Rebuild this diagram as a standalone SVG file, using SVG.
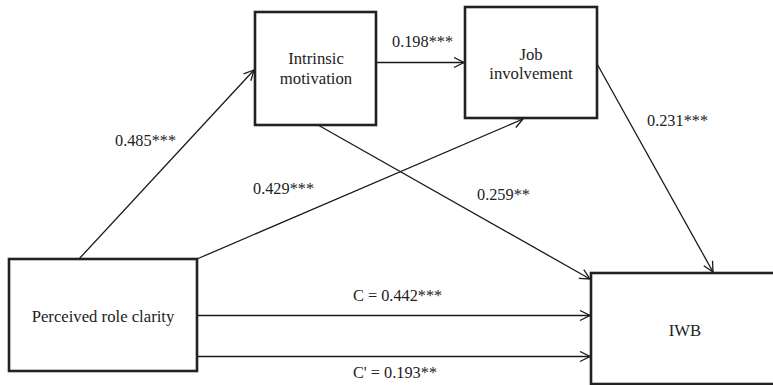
<svg xmlns="http://www.w3.org/2000/svg" width="773" height="385" viewBox="0 0 773 385">
<style>
.box{fill:#fff;stroke:#222;stroke-width:2.6}
.ln{fill:none;stroke:#1a1a1a;stroke-width:1.3;marker-end:url(#ah)}
text{font-family:'Liberation Serif','Times New Roman','DejaVu Serif',serif;font-size:16.3px;fill:#222}
.c{text-anchor:middle;font-size:16.7px}
</style>
<defs>
<marker id="ah" viewBox="0 0 12 12" refX="11" refY="6" markerWidth="12" markerHeight="12" markerUnits="userSpaceOnUse" orient="auto">
<path d="M1,1 L11,6 L1,11" fill="none" stroke="#1a1a1a" stroke-width="1.3"/>
</marker>
</defs>
<rect width="773" height="385" fill="#fff"/>
<g id="connectors">
<line class="ln" x1="79" y1="259" x2="254" y2="70"/>
<line class="ln" x1="376" y1="62.5" x2="464" y2="62.5"/>
<line class="ln" x1="318" y1="125" x2="590" y2="279"/>
<line class="ln" x1="197" y1="259" x2="523" y2="119"/>
<line class="ln" x1="596" y1="62" x2="713" y2="272"/>
<line class="ln" x1="197" y1="315.5" x2="590" y2="315.5"/>
<line class="ln" x1="197" y1="356.5" x2="590" y2="356.5"/>
<text x="115" y="146">0.485***</text>
<text x="392" y="47">0.198***</text>
<text x="647" y="126">0.231***</text>
<text x="253" y="194">0.429***</text>
<text x="477" y="200">0.259**</text>
<text x="353" y="301">C = 0.442***</text>
<text x="353" y="378">C' = 0.193**</text>
</g>
<g id="intrinsic">
<rect class="box" x="255" y="12" width="121" height="113"/>
<text class="c" x="316" y="64">Intrinsic</text>
<text class="c" x="316" y="84">motivation</text>
</g>
<g id="job">
<rect class="box" x="465" y="7" width="132" height="111"/>
<text class="c" x="531" y="60">Job</text>
<text class="c" x="531" y="79">involvement</text>
</g>
<g id="prc">
<rect class="box" x="9" y="259" width="188" height="112"/>
<text class="c" x="103" y="322">Perceived role clarity</text>
</g>
<g id="iwb">
<rect class="box" x="591" y="273" width="190" height="111"/>
<text class="c" x="685" y="336">IWB</text>
</g>
</svg>
